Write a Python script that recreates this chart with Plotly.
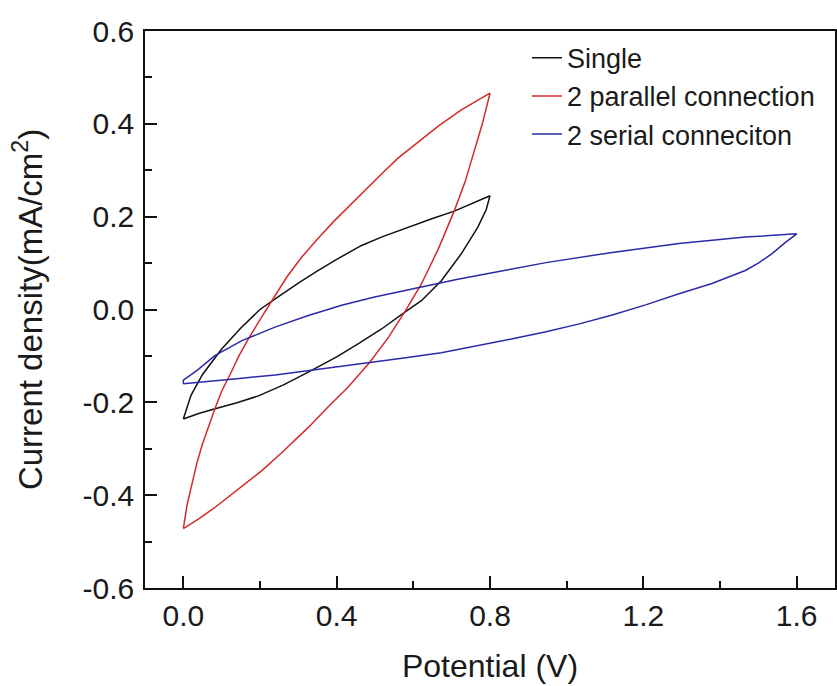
import plotly.graph_objects as go

# ---- data ----
single_x = [0.0, 0.04, 0.083, 0.14, 0.196, 0.26, 0.326, 0.40, 0.46, 0.517, 0.577, 0.621, 0.673, 0.725, 0.768, 0.79, 0.8,
            0.75, 0.707, 0.65, 0.586, 0.52, 0.465, 0.40, 0.35, 0.30, 0.25, 0.2, 0.15, 0.1, 0.05, 0.02, 0.0]
single_y = [-0.236, -0.224, -0.214, -0.201, -0.186, -0.163, -0.135, -0.102, -0.072, -0.042, -0.006, 0.019, 0.062, 0.120, 0.177, 0.215, 0.245,
            0.227, 0.212, 0.196, 0.177, 0.157, 0.138, 0.108, 0.083, 0.057, 0.029, 0.0, -0.040, -0.085, -0.140, -0.185, -0.236]

parallel_x = [0.0, 0.04, 0.083, 0.14, 0.205, 0.26, 0.326, 0.38, 0.43, 0.486, 0.535, 0.58, 0.621, 0.665, 0.707, 0.735, 0.759, 0.78, 0.8,
              0.77, 0.725, 0.665, 0.603, 0.56, 0.517, 0.46, 0.395, 0.35, 0.309, 0.27, 0.235, 0.2, 0.17, 0.145, 0.122, 0.1, 0.083, 0.065, 0.049, 0.035, 0.023, 0.01, 0.0]
parallel_y = [-0.472, -0.451, -0.426, -0.390, -0.347, -0.306, -0.254, -0.208, -0.167, -0.114, -0.060, -0.002, 0.055, 0.130, 0.213, 0.275, 0.343, 0.400, 0.466,
              0.452, 0.430, 0.395, 0.355, 0.326, 0.292, 0.245, 0.192, 0.152, 0.113, 0.070, 0.025, -0.022, -0.063, -0.100, -0.140, -0.176, -0.212, -0.252, -0.292, -0.332, -0.372, -0.420, -0.472]

serial_x = [0.0, 0.0, 0.036, 0.083, 0.153, 0.239, 0.326, 0.413, 0.499, 0.621, 0.716, 0.837, 0.946, 1.119, 1.293, 1.466, 1.6,
            1.57, 1.535, 1.50, 1.466, 1.379, 1.293, 1.206, 1.119, 1.033, 0.946, 0.859, 0.772, 0.673, 0.58, 0.486, 0.40, 0.326, 0.24, 0.153, 0.08, 0.031, 0.0]
serial_y = [-0.160, -0.152, -0.131, -0.099, -0.067, -0.038, -0.013, 0.009, 0.027, 0.048, 0.065, 0.084, 0.101, 0.123, 0.142, 0.156, 0.163,
            0.144, 0.120, 0.100, 0.084, 0.056, 0.034, 0.010, -0.012, -0.031, -0.048, -0.063, -0.077, -0.093, -0.104, -0.114, -0.124, -0.132, -0.141, -0.148, -0.154, -0.157, -0.160]

series_names = ["Single", "2 parallel connection", "2 serial conneciton"]
series_colors = ["#111111", "#d42a2a", "#2a2aa8"]

x_tickvals = [0.0, 0.4, 0.8, 1.2, 1.6]
x_ticktext = ["0.0", "0.4", "0.8", "1.2", "1.6"]
x_minorvals = [0.2, 0.6, 1.0, 1.4]
y_tickvals = [-0.6, -0.4, -0.2, 0.0, 0.2, 0.4, 0.6]
y_ticktext = ["-0.6", "-0.4", "-0.2", "0.0", "0.2", "0.4", "0.6"]
y_minorvals = [-0.5, -0.3, -0.1, 0.1, 0.3, 0.5]

FONT = "Arial, Liberation Sans, sans-serif"

fig = go.Figure()
for name, xs, ys, col in zip(series_names,
                             [single_x, parallel_x, serial_x],
                             [single_y, parallel_y, serial_y],
                             series_colors):
    fig.add_trace(go.Scatter(x=xs, y=ys, mode="lines", name=name,
                             line=dict(color=col, width=1.5)))

axis_common = dict(
    showline=True, linecolor="#111111", linewidth=1.5, mirror=True,
    ticks="inside", ticklen=12, tickwidth=1.5, tickcolor="#111111",
    showgrid=False, zeroline=False,
    tickfont=dict(family=FONT, size=30, color="#1a1a1a"),
    tickmode="array",
)

fig.update_xaxes(
    **axis_common,
    range=[-0.1, 1.7],
    tickvals=x_tickvals, ticktext=x_ticktext,
    minor=dict(tickmode="array", tickvals=x_minorvals, ticks="inside", ticklen=7,
               tickwidth=1.5, tickcolor="#111111"),
    title=dict(text="Potential (V)", font=dict(family=FONT, size=32, color="#1a1a1a"), standoff=24),
)
fig.update_yaxes(
    **axis_common,
    range=[-0.6, 0.6],
    tickvals=y_tickvals, ticktext=y_ticktext,
    ticklabelstandoff=3,
    minor=dict(tickmode="array", tickvals=y_minorvals, ticks="inside", ticklen=7,
               tickwidth=1.5, tickcolor="#111111"),
    title=dict(text="Current density(mA/cm<sup>2</sup>)", font=dict(family=FONT, size=33, color="#1a1a1a"), standoff=30),
)

fig.update_layout(
    width=837, height=686,
    margin=dict(l=145, r=2, t=31, b=98, autoexpand=False),
    paper_bgcolor="white", plot_bgcolor="white",
    font=dict(family=FONT, color="#1a1a1a"),
    showlegend=True,
    legend=dict(x=0.5536, y=0.995, xanchor="left", yanchor="top",
                bgcolor="rgba(0,0,0,0)", borderwidth=0,
                font=dict(family=FONT, size=27, color="#1a1a1a"),
                tracegroupgap=0),
)

fig.write_html("out.html",
               config={"displayModeBar": False},
               post_script="document.body.style.margin='0';document.body.style.overflow='hidden';")
